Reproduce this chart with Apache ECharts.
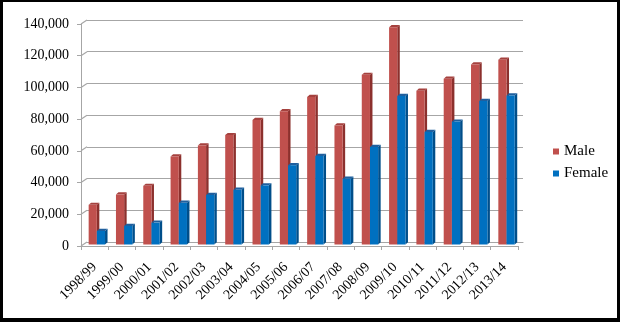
<!DOCTYPE html>
<html>
<head>
<meta charset="utf-8">
<script src="https://cdn.jsdelivr.net/npm/echarts@6/dist/echarts.min.js"></script>
<style>
html,body{margin:0;padding:0;background:#fff;}
#wrap{position:relative;width:620px;height:322px;}
#chart{position:absolute;left:0;top:0;width:620px;height:322px;}
#frame{position:absolute;left:0;top:0;width:620px;height:322px;box-sizing:border-box;border-style:solid;border-color:#000;border-width:2px 3px 4px 3px;pointer-events:none;}
</style>
</head>
<body>
<div id="wrap"><div id="chart"></div><div id="frame"></div></div>
<script>
const categories = ['1998/99','1999/00','2000/01','2001/02','2002/03','2003/04','2004/05','2005/06','2006/07','2007/08','2008/09','2009/10','2010/11','2011/12','2012/13','2013/14'];
const male = [25000, 31500, 37000, 55500, 62500, 69000, 78500, 84000, 93000, 75000, 107000, 137000, 97000, 104500, 113500, 116500];
const female = [8500, 11700, 13800, 26300, 31200, 34500, 37300, 50000, 55800, 41500, 61500, 93700, 71000, 77500, 90500, 94000];
const yTicks = [0, 20000, 40000, 60000, 80000, 100000, 120000, 140000];

const serif = 'Liberation Serif';

function barRenderer(slot, front, side, topc) {
  return function (params, api) {
    const i = api.value(0), v = api.value(1);
    const top = api.coord([i, v]);
    const base = api.coord([i, 0]);
    const band = api.size([1, 0])[0];
    const w = band * 0.3;
    const x0 = top[0] - band * 0.22 + slot * w;
    const yT = top[1] - 1.5, yB = base[1] - 1.5;
    const dx = 2.5, dy = 2.2;
    return {
      type: 'group',
      children: [
        {type: 'polygon', shape: {points: [[x0 + w, yT], [x0 + w + dx, yT - dy], [x0 + w + dx, yB - dy], [x0 + w, yB]]}, style: {fill: side}},
        {type: 'polygon', shape: {points: [[x0, yT], [x0 + dx, yT - dy], [x0 + w + dx, yT - dy], [x0 + w, yT]]}, style: {fill: topc}},
        {type: 'rect', shape: {x: x0, y: yT, width: w, height: yB - yT}, style: {fill: front}}
      ]
    };
  };
}

const chart = echarts.init(document.getElementById('chart'), null, {renderer: 'canvas'});
chart.setOption({
  animation: false,
  backgroundColor: '#fff',
  textStyle: {fontFamily: serif},
  grid: [
    {left: 87, right: 97, top: 20, bottom: 80},
    {left: 81, right: 102, top: 24, bottom: 76}
  ],
  legend: {
    orient: 'vertical', left: 548, top: 139, itemWidth: 6, itemHeight: 6, itemGap: 7, icon: 'rect',
    textStyle: {fontFamily: serif, fontSize: 15, color: '#000'},
    data: ['Male', 'Female']
  },
  xAxis: [
    {type: 'category', gridIndex: 0, data: categories, axisLine: {show: true, lineStyle: {color: '#a6a6a6', width: 1}}, axisTick: {show: false}, axisLabel: {show: false}},
    {type: 'category', gridIndex: 1, data: categories,
      axisLine: {show: true, lineStyle: {color: '#a6a6a6', width: 1}},
      axisTick: {show: true, alignWithLabel: false, length: 4, lineStyle: {color: '#a6a6a6'}},
      axisLabel: {rotate: 45, margin: 19, fontFamily: serif, fontSize: 14, color: '#000', interval: 0}}
  ],
  yAxis: [
    {type: 'value', gridIndex: 0, min: 0, max: 140000, interval: 20000, axisLine: {show: false}, axisTick: {show: false}, axisLabel: {show: false},
      splitLine: {show: true, lineStyle: {color: '#a6a6a6', width: 1.2}}},
    {type: 'value', gridIndex: 1, min: 0, max: 140000, interval: 20000,
      axisLine: {show: true, lineStyle: {color: '#a6a6a6', width: 1}},
      axisTick: {show: true, length: 4, lineStyle: {color: '#a6a6a6'}},
      splitLine: {show: false},
      axisLabel: {margin: 12, fontFamily: serif, fontSize: 14, color: '#000',
        formatter: v => v.toLocaleString('en-US')}}
  ],
  series: [
    {
      type: 'custom', name: 'wall', xAxisIndex: 0, yAxisIndex: 0, silent: true,
      data: yTicks.map(t => [0, t]),
      renderItem: function (params, api) {
        const p = api.coord([0, api.value(1)]);
        const x = params.coordSys.x;
        return {type: 'line', shape: {x1: x, y1: p[1], x2: x - 6, y2: p[1] + 4}, style: {stroke: '#a6a6a6', lineWidth: 1.2}};
      }
    },
    {
      type: 'custom', name: 'Male', xAxisIndex: 1, yAxisIndex: 1,
      itemStyle: {color: '#C0504D'},
      data: male.map((v, i) => [i, v]),
      renderItem: barRenderer(0, '#C0504D', '#8C302D', '#A5413E')
    },
    {
      type: 'custom', name: 'Female', xAxisIndex: 1, yAxisIndex: 1,
      itemStyle: {color: '#0070C0'},
      data: female.map((v, i) => [i, v]),
      renderItem: barRenderer(1, '#0070C0', '#004E8A', '#1F5F9E')
    }
  ]
});
</script>
</body>
</html>
